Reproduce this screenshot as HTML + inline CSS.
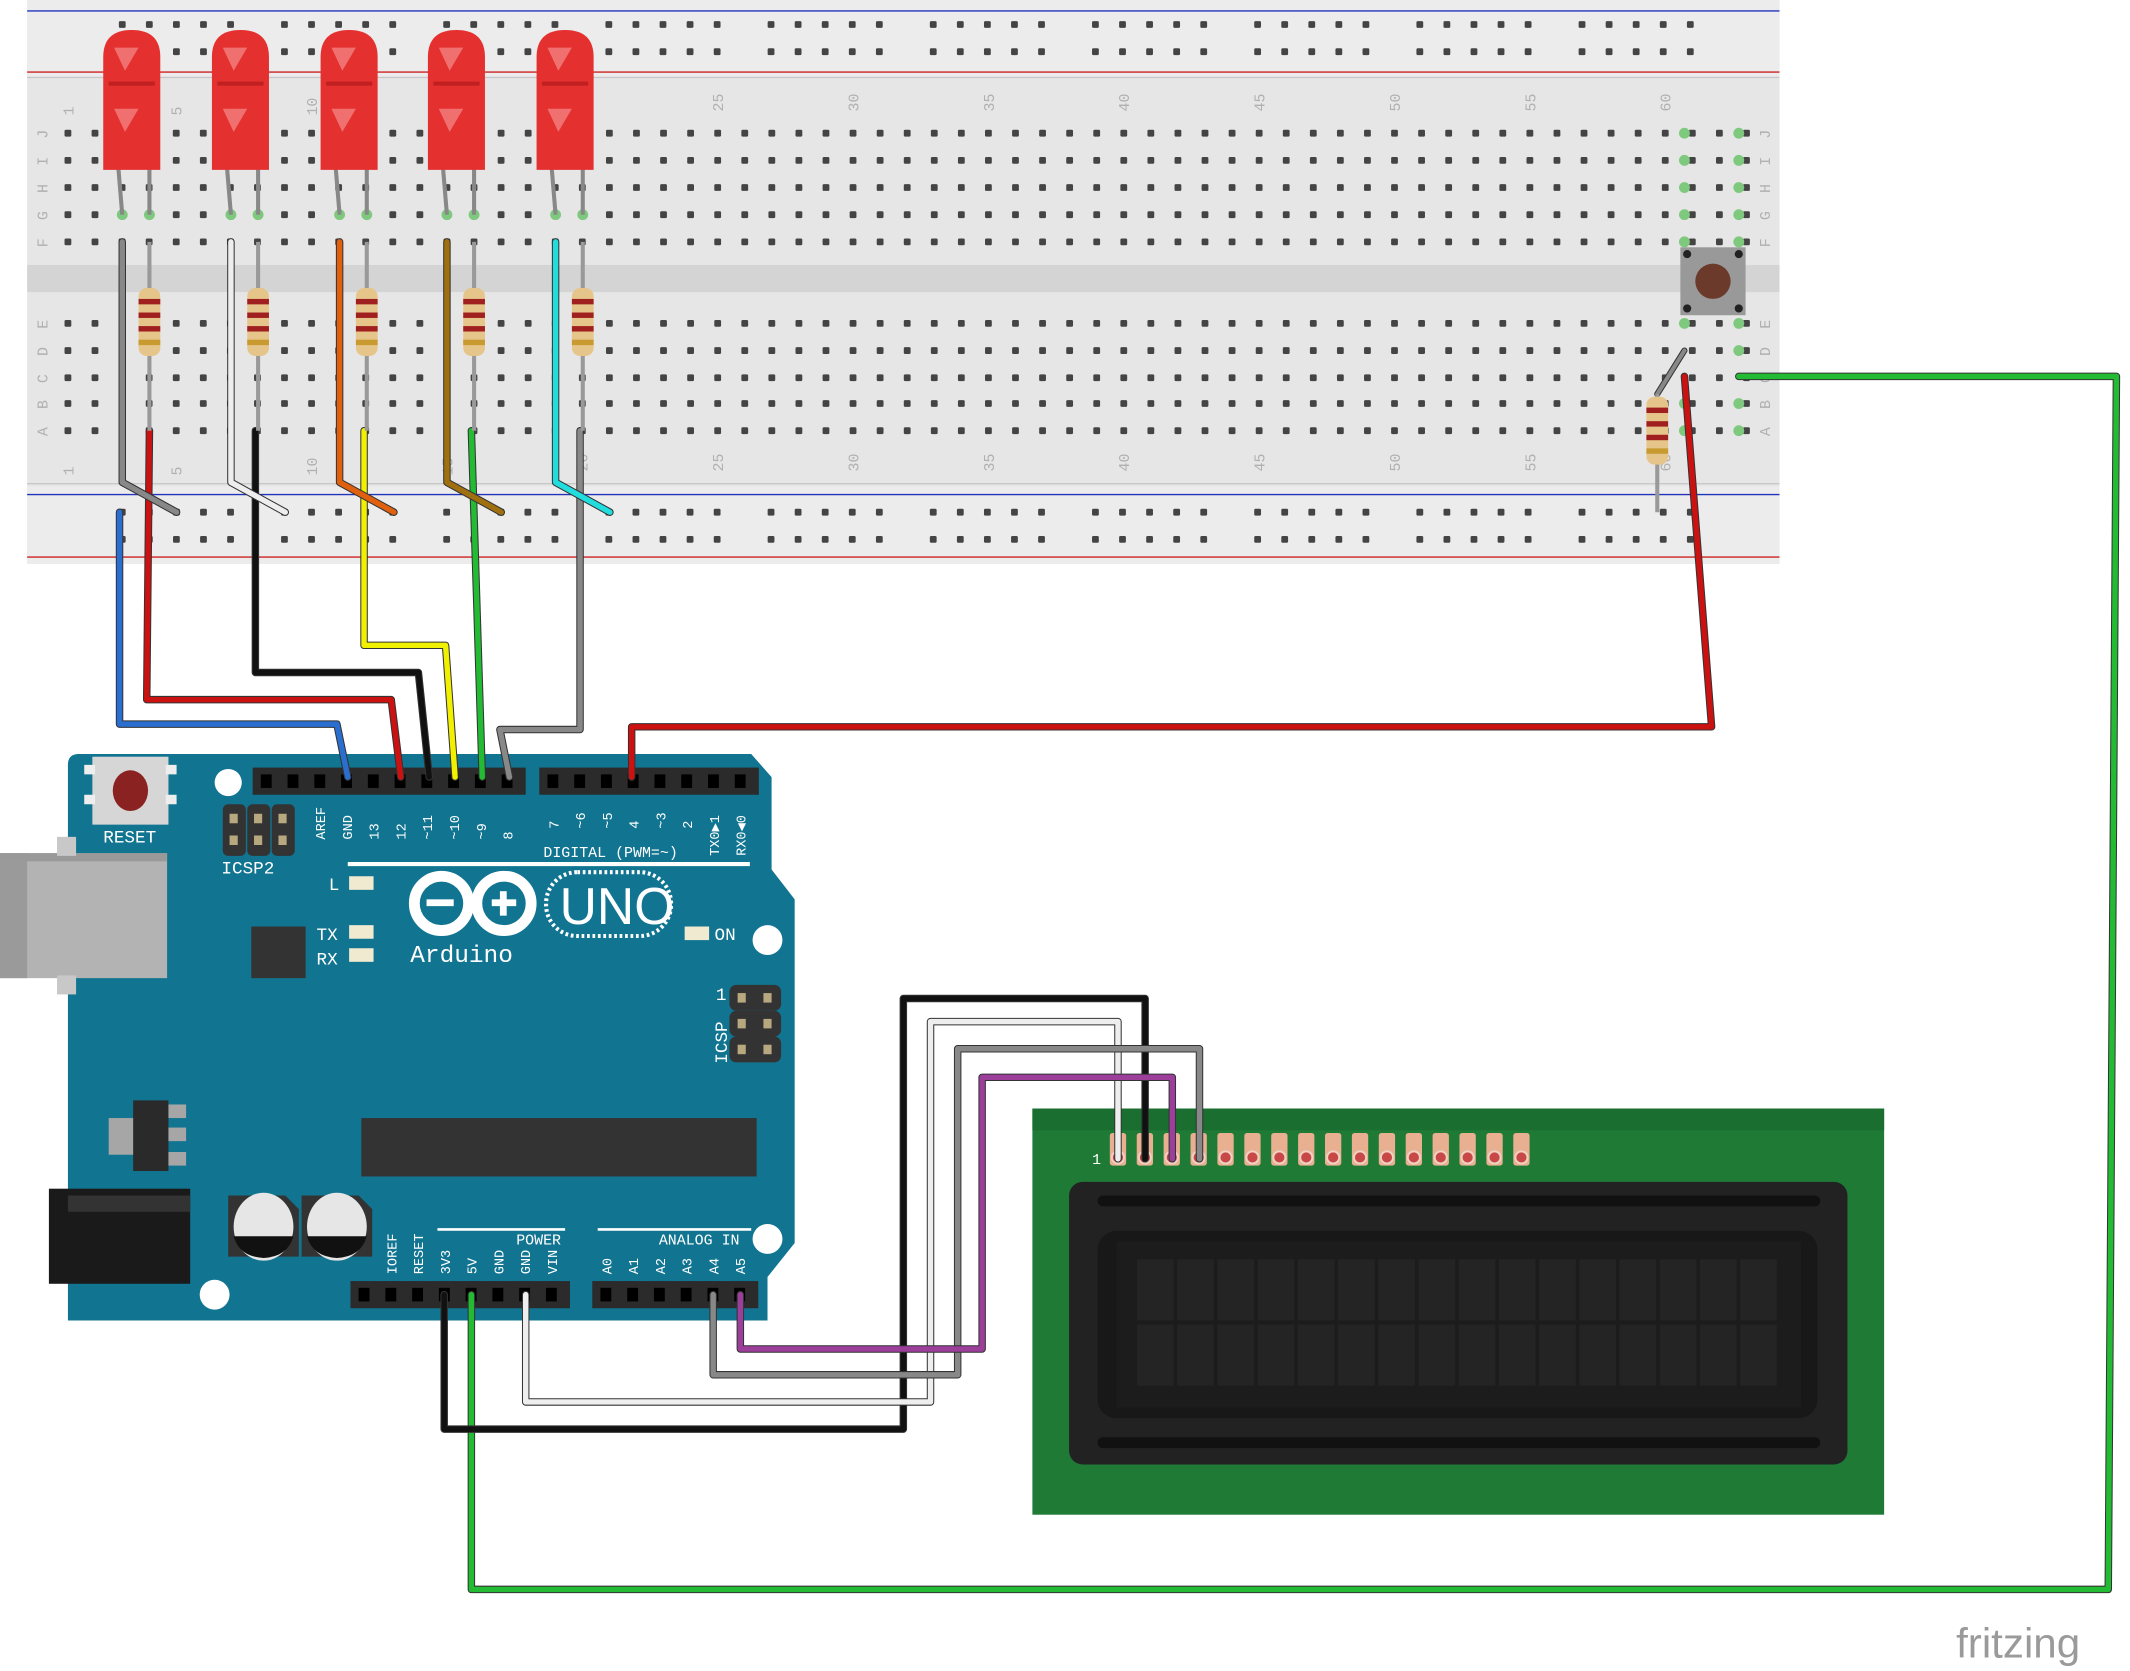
<!DOCTYPE html>
<html><head><meta charset="utf-8"><style>
html,body{margin:0;padding:0;background:#fff;}
svg{display:block}
.m{font-family:"Liberation Mono","DejaVu Sans Mono",monospace;}
</style></head><body>
<svg id="s" width="2130" height="1671" viewBox="0 0 1568 1230" xmlns="http://www.w3.org/2000/svg">
<rect x="20" y="0" width="1290" height="415" fill="#e6e6e6"/>
<rect x="20" y="0" width="1290" height="56" fill="#ececec"/>
<rect x="20" y="358" width="1290" height="57" fill="#ececec"/>
<rect x="20" y="195" width="1290" height="20" fill="#d4d4d4"/>
<line x1="20" y1="8" x2="1310" y2="8" stroke="#2233bb" stroke-width="1"/>
<line x1="20" y1="53" x2="1310" y2="53" stroke="#cc2222" stroke-width="1"/>
<line x1="20" y1="57" x2="1310" y2="57" stroke="#c8c8c8" stroke-width="1"/>
<line x1="20" y1="356" x2="1310" y2="356" stroke="#c8c8c8" stroke-width="1"/>
<line x1="20" y1="364" x2="1310" y2="364" stroke="#2233bb" stroke-width="1"/>
<line x1="20" y1="410" x2="1310" y2="410" stroke="#cc2222" stroke-width="1"/>
<g id="holes"></g>
<g id="labels" class="m" font-size="11" fill="#b0b0b0"></g>

<path d="M58 555 L553 555 L568 572 L568 640 L585 662 L585 915 L565 940 L565 972 L50 972 L50 563 Q50 555 58 555Z" fill="#117491"/>
<rect x="0" y="628" width="123" height="92" fill="#b3b3b3"/>
<rect x="0" y="628" width="20" height="92" fill="#9a9a9a"/>
<rect x="0" y="628" width="123" height="6" fill="#999"/>
<rect x="42" y="616" width="14" height="14" fill="#c8c8c8"/>
<rect x="42" y="718" width="14" height="14" fill="#c8c8c8"/>
<rect x="68" y="557" width="56" height="50" fill="#d6d6d6"/>
<rect x="62" y="563" width="8" height="7" fill="#eee"/><rect x="62" y="585" width="8" height="7" fill="#eee"/>
<rect x="122" y="563" width="8" height="7" fill="#eee"/><rect x="122" y="585" width="8" height="7" fill="#eee"/>
<ellipse cx="96" cy="582" rx="13" ry="15" fill="#8b2222"/>
<text class="m" x="76" y="620" font-size="13" fill="#fff">RESET</text>
<circle cx="168" cy="576" r="10" fill="#fff"/>
<circle cx="565" cy="692" r="11" fill="#fff"/>
<circle cx="565" cy="912" r="11" fill="#fff"/>
<circle cx="158" cy="953" r="11" fill="#fff"/>
<g fill="#333"><rect x="164" y="592" width="17" height="38" rx="4"/><rect x="182" y="592" width="17" height="38" rx="4"/><rect x="200" y="592" width="17" height="38" rx="4"/></g>
<g fill="#b8a880"><rect x="169" y="599" width="6" height="7"/><rect x="187" y="599" width="6" height="7"/><rect x="205" y="599" width="6" height="7"/><rect x="169" y="615" width="6" height="7"/><rect x="187" y="615" width="6" height="7"/><rect x="205" y="615" width="6" height="7"/></g>
<text class="m" x="163" y="643" font-size="13" fill="#fff">ICSP2</text>
<rect x="185" y="682" width="40" height="38" fill="#333"/>
<text class="m" x="233" y="692" font-size="13" fill="#fff">TX</text>
<text class="m" x="233" y="710" font-size="13" fill="#fff">RX</text>
<text class="m" x="242" y="655" font-size="13" fill="#fff">L</text>
<rect x="257" y="645" width="18" height="10" fill="#f0ead0"/>
<rect x="257" y="681" width="18" height="10" fill="#f0ead0"/>
<rect x="257" y="698" width="18" height="10" fill="#f0ead0"/>
<rect x="504" y="682" width="18" height="10" fill="#f0ead0"/>
<text class="m" x="526" y="692" font-size="13" fill="#fff">ON</text>
<line x1="256" y1="636" x2="552" y2="636" stroke="#fff" stroke-width="3"/>
<text class="m" x="400" y="631" font-size="11" fill="#fff">DIGITAL (PWM=~)</text>
<g fill="none" stroke="#fff" stroke-width="8"><circle cx="325" cy="665" r="20"/><circle cx="371" cy="665" r="20"/></g>
<rect x="314" y="662" width="20" height="5" fill="#fff"/><rect x="362" y="662" width="18" height="5" fill="#fff"/><rect x="368" y="656" width="5" height="18" fill="#fff"/>
<rect x="402" y="642" width="92" height="47" rx="23" fill="none" stroke="#fff" stroke-width="3" stroke-dasharray="2 2"/>
<text x="412" y="680" font-size="38" fill="#fff" style="font-family:'Liberation Sans',sans-serif">UNO</text>
<text class="m" x="302" y="708" font-size="18" fill="#fff">Arduino</text>
<g fill="#333"><rect x="537" y="725" width="38" height="19" rx="5"/><rect x="537" y="744" width="38" height="19" rx="5"/><rect x="537" y="763" width="38" height="19" rx="5"/></g>
<g fill="#b8a880"><rect x="543" y="731" width="6" height="7"/><rect x="562" y="731" width="6" height="7"/><rect x="543" y="750" width="6" height="7"/><rect x="562" y="750" width="6" height="7"/><rect x="543" y="769" width="6" height="7"/><rect x="562" y="769" width="6" height="7"/></g>
<text class="m" x="527" y="736" font-size="13" fill="#fff">1</text>
<text class="m" transform="translate(535,783) rotate(-90)" font-size="13" fill="#fff">ICSP</text>
<rect x="98" y="810" width="26" height="52" fill="#2a2a2a"/>
<rect x="80" y="823" width="18" height="27" fill="#a6a6a6"/>
<rect x="124" y="813" width="13" height="10" fill="#a6a6a6"/><rect x="124" y="830" width="13" height="10" fill="#a6a6a6"/><rect x="124" y="848" width="13" height="10" fill="#a6a6a6"/>
<rect x="266" y="823" width="291" height="43" fill="#333"/>
<rect x="36" y="875" width="104" height="70" fill="#1a1a1a"/>
<rect x="50" y="880" width="90" height="12" fill="#333"/>
<path d="M168 880 L210 880 L220 890 L220 925 L168 925Z" fill="#333"/>
<ellipse cx="194" cy="903" rx="22" ry="25" fill="#e6e6e6"/>
<path d="M172 910 L216 910 Q212 925 194 926 Q176 925 172 910Z" fill="#111"/>
<path d="M222 880 L264 880 L274 890 L274 925 L222 925Z" fill="#333"/>
<ellipse cx="248" cy="903" rx="22" ry="25" fill="#e6e6e6"/>
<path d="M226 910 L270 910 Q266 925 248 926 Q230 925 226 910Z" fill="#111"/>
<line x1="322" y1="905" x2="416" y2="905" stroke="#fff" stroke-width="2"/>
<line x1="440" y1="905" x2="553" y2="905" stroke="#fff" stroke-width="2"/>
<text class="m" x="380" y="916" font-size="11" fill="#fff">POWER</text>
<text class="m" x="485" y="916" font-size="11" fill="#fff">ANALOG IN</text>
<g id="ard" class="m" font-size="10" fill="#fff"></g>

<rect x="760" y="816" width="627" height="299" fill="#1f7a36"/>
<rect x="760" y="816" width="627" height="16" fill="#1a6e2f"/>
<rect x="787" y="870" width="573" height="208" rx="10" fill="#222"/>
<rect x="808" y="880" width="532" height="8" rx="4" fill="#111"/>
<rect x="808" y="1058" width="532" height="8" rx="4" fill="#111"/>
<rect x="808" y="906" width="530" height="138" rx="14" fill="#181818"/>
<rect x="822" y="914" width="504" height="122" fill="#1c1c1c"/>
<g id="lcd"></g>
<text class="m" x="804" y="857" font-size="11" fill="#fff">1</text>

<g id="wires" fill="none" stroke-linejoin="round" stroke-linecap="round"></g>
<g id="top"></g>
<text x="1440" y="1220" font-size="31" fill="#9a9a9a" style="font-family:'Liberation Sans',sans-serif">fritzing</text>
</svg>
<script>
const NS="http://www.w3.org/2000/svg";
function el(p,t,a,txt){const e=document.createElementNS(NS,t);for(const k in a)e.setAttribute(k,a[k]);if(txt!=null)e.textContent=txt;document.getElementById(p).appendChild(e);return e;}
const cx=n=>50+(n-1)*19.93;
const rows=[98,118,138,158,178,238,258,278,297,317];
for(let c=1;c<=63;c++)for(const y of rows)el('holes','rect',{x:cx(c)-2.5,y:y-2.5,width:5,height:5,rx:1,fill:'#444'});
for(let g=0;g<10;g++)for(let i=0;i<5;i++){const x=90+g*119.4+i*19.93;for(const y of [18,38,377,397])el('holes','rect',{x:x-2.5,y:y-2.5,width:5,height:5,rx:1,fill:'#444'});}
[[90,158],[110,158],[170,158],[190,158],[250,158],[270,158],[329,158],[349,158],[409,158],[429,158],[1240,98],[1280,98],[1240,118],[1280,118],[1240,138],[1280,138],[1240,158],[1280,158],[1240,178],[1280,178],[1280,238],[1280,258],[1280,297],[1280,317],[1240,238],[1240,297],[1240,317]].forEach(([x,y])=>el('holes','circle',{cx:x,cy:y,r:4,fill:'#7ec97e'}));
[1,5,10,15,20,25,30,35,40,45,50,55,60].forEach(n=>{el('labels','text',{transform:`translate(${cx(n)+4},${n<20?85:82}) rotate(-90)`},n);el('labels','text',{transform:`translate(${cx(n)+4},${n<20?350:347}) rotate(-90)`},n);});
['J','I','H','G','F','E','D','C','B','A'].forEach((l,i)=>{el('labels','text',{transform:`translate(35,${rows[i]+4}) rotate(-90)`},l);el('labels','text',{transform:`translate(1303,${rows[i]+4}) rotate(-90)`},l);});
function header(x0,n,y){el('ard','rect',{x:x0,y:y-10,width:n*19.7+4,height:20,fill:'#2b2b2b'});for(let i=0;i<n;i++)el('ard','rect',{x:x0+6+i*19.7,y:y-5,width:8,height:10,fill:'#000'});}
header(186,10,575);header(397,8,575);header(258,8,953);header(436,6,953);
['','','AREF','GND','13','12','~11','~10','~9','8'].forEach((t,i)=>{if(t)el('ard','text',{transform:`translate(${200+i*19.7},${618}) rotate(-90)`},t);});
['7','~6','~5','4','~3','2','TX0▶1','RX0◀0'].forEach((t,i)=>el('ard','text',{transform:`translate(${411+i*19.7},${t.length>3?630:610}) rotate(-90)`},t));
['','IOREF','RESET','3V3','5V','GND','GND','VIN'].forEach((t,i)=>{if(t)el('ard','text',{transform:`translate(${272+i*19.7},${938}) rotate(-90)`},t);});
['A0','A1','A2','A3','A4','A5'].forEach((t,i)=>el('ard','text',{transform:`translate(${450+i*19.7},${938}) rotate(-90)`},t));
for(let r=0;r<2;r++)for(let c=0;c<16;c++)el('lcd','rect',{x:837+c*29.6,y:927+r*48,width:27,height:45,fill:'#242424'});
for(let i=0;i<16;i++){const x=823+i*19.8;el('lcd','rect',{x:x-6,y:834,width:12,height:24,rx:2,fill:'#e8b090'});el('lcd','circle',{cx:x,cy:852,r:4.5,fill:'#c84848',stroke:'#f0d0c0','stroke-width':1.5});}
function w(pts,c,wd){const d='M'+pts.map(p=>p.join(' ')).join(' L');el('wires','path',{d,stroke:'#333',"stroke-width":(wd||4)+1.5});el('wires','path',{d,stroke:c,"stroke-width":wd||4});}
w([[88,377],[88,533],[248,533],[256,572]],'#2a6fd0');
w([[110,317],[108,515],[288,515],[295,572]],'#cc1111');
w([[188,317],[188,495],[308,495],[316,572]],'#111');
w([[268,317],[268,475],[328,475],[335,572]],'#f0f000');
w([[347,317],[355,572]],'#22bb33');
w([[427,317],[427,537],[368,537],[375,572]],'#888');
w([[1240,277],[1260,535],[465,535],[465,572]],'#cc1111');
w([[1280,277],[1558,277],[1552,1170],[347,1170],[347,953]],'#22bb33');
w([[327,953],[327,1052],[665,1052],[665,735],[843,735],[843,853]],'#111');
w([[387,953],[387,1032],[685,1032],[685,752],[823,752],[823,853]],'#eee');
w([[525,953],[525,1012],[705,1012],[705,772],[883,772],[883,853]],'#888');
w([[545,953],[545,993],[723,993],[723,793],[863,793],[863,853]],'#9b3f9b');
w([[90,178],[90,355],[130,377]],'#888');
w([[170,178],[170,355],[210,377]],'#eee');
w([[250,178],[250,355],[290,377]],'#e06010');
w([[329,178],[329,355],[369,377]],'#a07010');
w([[409,178],[409,355],[449,377]],'#22dddd');
w([[1220,290],[1240,258]],'#888',3);
[110,190,270,349,429].forEach((x,i)=>{
 el('top','line',{x1:x,y1:178,x2:x,y2:317,stroke:'#999','stroke-width':3});
 el('top','rect',{x:x-8,y:212,width:16,height:50,rx:6,fill:'#e6c58a'});
 [222,232,242,252].forEach((y,j)=>el('top','rect',{x:x-8,y:y-2,width:16,height:4,fill:j==3?'#c89a30':'#a02020'}));
 const lx=x-20;
 el('top','line',{x1:lx-4,y1:110,x2:lx,y2:158,stroke:'#888','stroke-width':3});
 el('top','line',{x1:lx+20,y1:110,x2:lx+20,y2:158,stroke:'#888','stroke-width':3});
 el('top','path',{d:`M${lx-14} 125 L${lx-14} 42 Q${lx-14} 22 ${lx+7} 22 Q${lx+28} 22 ${lx+28} 42 L${lx+28} 125Z`,fill:'#e53030'});
 el('top','rect',{x:lx-10,y:60,width:34,height:3,fill:'#c02020'});
 el('top','path',{d:`M${lx-6} 35 L${lx+12} 35 L${lx+2} 52Z M${lx-6} 80 L${lx+12} 80 L${lx+2} 97Z`,fill:'#f07070'});
});
el('top','line',{x1:1220,y1:290,x2:1220,y2:377,stroke:'#999','stroke-width':3});
el('top','rect',{x:1212,y:292,width:16,height:50,rx:6,fill:'#e6c58a'});
[302,312,322,332].forEach((y,j)=>el('top','rect',{x:1212,y:y-2,width:16,height:4,fill:j==3?'#c89a30':'#a02020'}));
el('top','rect',{x:1237,y:182,width:48,height:50,fill:'#999'});
el('top','circle',{cx:1261,cy:207,r:13,fill:'#6b3a2a'});
[[1242,187],[1280,187],[1242,227],[1280,227]].forEach(([x,y])=>el('top','circle',{cx:x,cy:y,r:3,fill:'#222'}));
</script>
</body></html>
